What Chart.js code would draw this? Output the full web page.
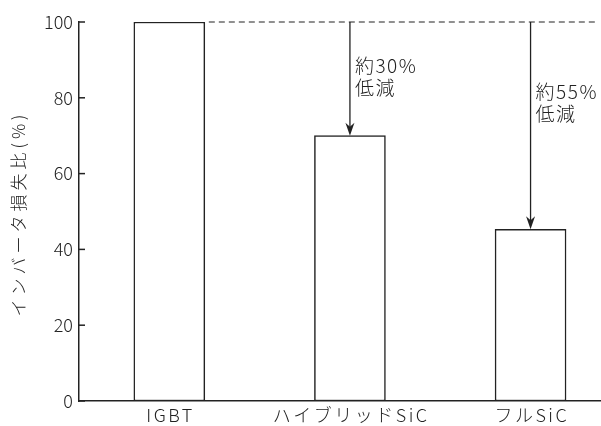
<!DOCTYPE html>
<html>
<head>
<meta charset="utf-8">
<script src="https://cdn.jsdelivr.net/npm/chart.js@4"></script>
<style>
  html, body { margin: 0; padding: 0; background: #fff; }
  #wrap { width: 601px; height: 426px; }
</style>
</head>
<body>
<div id="wrap"><canvas id="chart"></canvas></div>
<script>
// data
const categories = ["IGBT", "ハイブリッドSiC", "フルSiC"];
const lossRatio = [100, 70, 45.3];
const yTicks = [0, 20, 40, 60, 80, 100];
const yTitle = "インバータ損失比(%)";

// reduction arrows: which bar, label lines, label anchor (y value)
const arrowBars = [1, 2];
const arrowLabels = [["約30%", "低減"], ["約55%", "低減"]];
const arrowLabelY = [88.5, 81.5];

const INK = '#222';
const FONT = "'Noto Sans CJK JP', 'Noto Sans', sans-serif";

// spaced-out text (the original uses a wide Japanese typeface)
function spacedText(ctx, str, x, y, spacing, align) {
  ctx.letterSpacing = spacing + 'px';
  ctx.textAlign = align;
  const shift = align === 'center' ? spacing / 2 : 0;
  ctx.fillText(str, x + shift, y);
  ctx.letterSpacing = '0px';
}

const overlay = {
  id: 'overlay',
  afterDatasetsDraw(chart) {
    const { ctx, scales: { x, y } } = chart;
    ctx.save();
    ctx.strokeStyle = INK;
    ctx.fillStyle = INK;
    ctx.lineWidth = 1.5;

    // inward y ticks
    for (const v of yTicks) {
      const py = y.getPixelForValue(v);
      ctx.beginPath();
      ctx.moveTo(x.left, py);
      ctx.lineTo(x.left + 6, py);
      ctx.stroke();
    }

    // dashed reference line at the IGBT level
    const topY = y.getPixelForValue(lossRatio[0]);
    const first = chart.getDatasetMeta(0).data[0];
    ctx.lineWidth = 1.2;
    ctx.setLineDash([6, 4]);
    ctx.beginPath();
    ctx.moveTo(first.x + first.width / 2 + 4, topY);
    ctx.lineTo(x.right - 6, topY);
    ctx.stroke();
    ctx.setLineDash([]);

    // arrows + labels
    ctx.font = '300 19px ' + FONT;
    ctx.textBaseline = 'middle';
    arrowBars.forEach((bi, k) => {
      const px = x.getPixelForValue(bi);
      const tip = y.getPixelForValue(lossRatio[bi]);
      ctx.lineWidth = 1.3;
      ctx.beginPath();
      ctx.moveTo(px, topY);
      ctx.lineTo(px, tip - 8);
      ctx.stroke();
      ctx.beginPath();
      ctx.moveTo(px, tip);
      ctx.lineTo(px - 4.5, tip - 13);
      ctx.lineTo(px, tip - 9);
      ctx.lineTo(px + 4.5, tip - 13);
      ctx.closePath();
      ctx.fill();
      const ly = y.getPixelForValue(arrowLabelY[k]);
      arrowLabels[k].forEach((line, i) => {
        spacedText(ctx, line, px + 5, ly + i * 22, 1.5, 'left');
      });
    });

    // category labels under the x axis
    ctx.font = '300 18px ' + FONT;
    categories.forEach((c, i) => {
      spacedText(ctx, c, x.getPixelForValue(i), x.top + 14, 2.5, 'center');
    });

    // rotated y axis title
    ctx.save();
    ctx.translate(19, (y.top + y.bottom) / 2 + 4);
    ctx.rotate(-Math.PI / 2);
    ctx.font = '300 17px ' + FONT;
    spacedText(ctx, yTitle, 0, 0, 4, 'center');
    ctx.restore();

    ctx.restore();
  }
};

new Chart(document.getElementById('chart'), {
  type: 'bar',
  data: {
    datasets: [{
      data: lossRatio.map((v, i) => ({ x: i, y: v })),
      backgroundColor: '#fff',
      borderColor: INK,
      borderWidth: 1.5,
      borderSkipped: false,
      barThickness: 71
    }]
  },
  options: {
    responsive: true,
    maintainAspectRatio: false,
    animation: false,
    layout: { padding: { top: 22, right: 0, left: 0, bottom: 0 } },
    plugins: { legend: { display: false }, tooltip: { enabled: false } },
    scales: {
      x: {
        type: 'linear',
        min: -0.5,
        max: 2.39,
        offset: false,
        grid: { display: false, drawTicks: false },
        border: { display: true, color: INK, width: 1.5 },
        afterBuildTicks: s => { s.ticks = categories.map((c, i) => ({ value: i })); },
        afterFit: s => { s.height = 25; },
        ticks: { display: false }
      },
      y: {
        min: 0,
        max: 100,
        grid: { display: false, drawTicks: false },
        border: { display: true, color: INK, width: 1.5 },
        afterBuildTicks: s => { s.ticks = yTicks.map(v => ({ value: v })); },
        afterFit: s => { s.width = 79; },
        ticks: {
          color: INK,
          font: { family: FONT, size: 18, weight: '300' },
          padding: 6
        }
      }
    }
  },
  plugins: [overlay]
});
</script>
</body>
</html>
